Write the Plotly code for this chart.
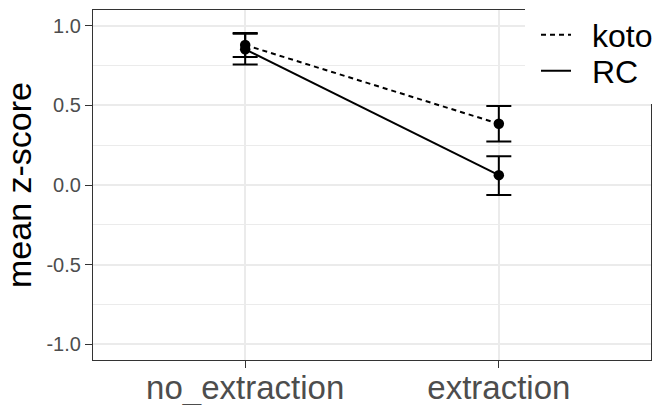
import plotly.graph_objects as go

categories = ["no_extraction", "extraction"]
koto_mean = [0.88, 0.385]
koto_upper = [0.955, 0.497]
koto_lower = [0.805, 0.274]
rc_mean = [0.853, 0.062]
rc_upper = [0.950, 0.180]
rc_lower = [0.757, -0.0625]
y_ticks = [-1.0, -0.5, 0.0, 0.5, 1.0]
y_tick_labels = ["-1.0", "-0.5", "0.0", "0.5", "1.0"]

FONT = "Liberation Sans, Arial, Helvetica, sans-serif"

fig = go.Figure()

series = [
    ("koto", koto_mean, koto_upper, koto_lower, "5px,4px", "legend", (360 - 35) / 350),
    ("RC", rc_mean, rc_upper, rc_lower, "solid", "legend2", (360 - 71) / 350),
]
legend_x = (536 - 93) / 558
legends = {}
for name, mean, up, lo, dash, leg, ly in series:
    fig.add_trace(go.Scatter(
        x=categories, y=mean, mode="lines", name="\u2002" + name,
        line=dict(color="black", width=2, dash=dash),
        showlegend=True, legend=leg,
    ))
    fig.add_trace(go.Scatter(
        x=categories, y=mean, mode="markers", name=name,
        marker=dict(color="black", size=10.5),
        error_y=dict(type="data", symmetric=False,
                     array=[u - m for u, m in zip(up, mean)],
                     arrayminus=[m - l for m, l in zip(mean, lo)],
                     color="black", thickness=2, width=12.5),
        showlegend=False,
    ))
    legends[leg] = dict(x=legend_x, y=ly, xanchor="left", yanchor="middle",
                        bgcolor="rgba(0,0,0,0)", borderwidth=0,
                        font=dict(size=32, color="black", family=FONT),
                        itemwidth=30)

fig.update_layout(
    width=658, height=405,
    margin=dict(l=93, r=7, t=10, b=45, autoexpand=False),
    paper_bgcolor="white", plot_bgcolor="white",
    font=dict(family=FONT, color="black"),
    showlegend=True,
    shapes=[dict(type="rect", xref="paper", yref="paper",
                 x0=(525 - 93) / 558, x1=1.05, y0=(360 - 104) / 350, y1=1.05,
                 fillcolor="white", line=dict(width=0), layer="above")],
    **legends,
)

fig.update_xaxes(
    type="category", range=[-0.6, 1.6], automargin=False,
    showline=True, linecolor="#333333", linewidth=1.2, mirror=True,
    ticks="outside", ticklen=7, tickcolor="#333333", tickwidth=1.2,
    ticklabelstandoff=-9,
    showgrid=True, gridcolor="#EBEBEB", gridwidth=1.5,
    tickfont=dict(size=33, color="#4D4D4D", family=FONT),
    zeroline=False,
)
fig.update_yaxes(
    range=[-1.1, 1.1], automargin=False,
    tickvals=y_ticks, ticktext=y_tick_labels,
    showline=True, linecolor="#333333", linewidth=1.2, mirror=True,
    ticks="outside", ticklen=7, tickcolor="#333333", tickwidth=1.2,
    showgrid=True, gridcolor="#EBEBEB", gridwidth=1.5,
    minor=dict(tickvals=[-0.75, -0.25, 0.25, 0.75], showgrid=True,
               gridcolor="#EBEBEB", gridwidth=1, ticks=""),
    tickfont=dict(size=20, color="#4D4D4D", family=FONT),
    title=dict(text="mean z-score", font=dict(size=34, color="black", family=FONT),
               standoff=12),
    zeroline=False,
)

fig.write_html("out.html", config={"displayModeBar": False},
               post_script="document.body.style.margin='0';document.body.style.overflow='hidden';")
